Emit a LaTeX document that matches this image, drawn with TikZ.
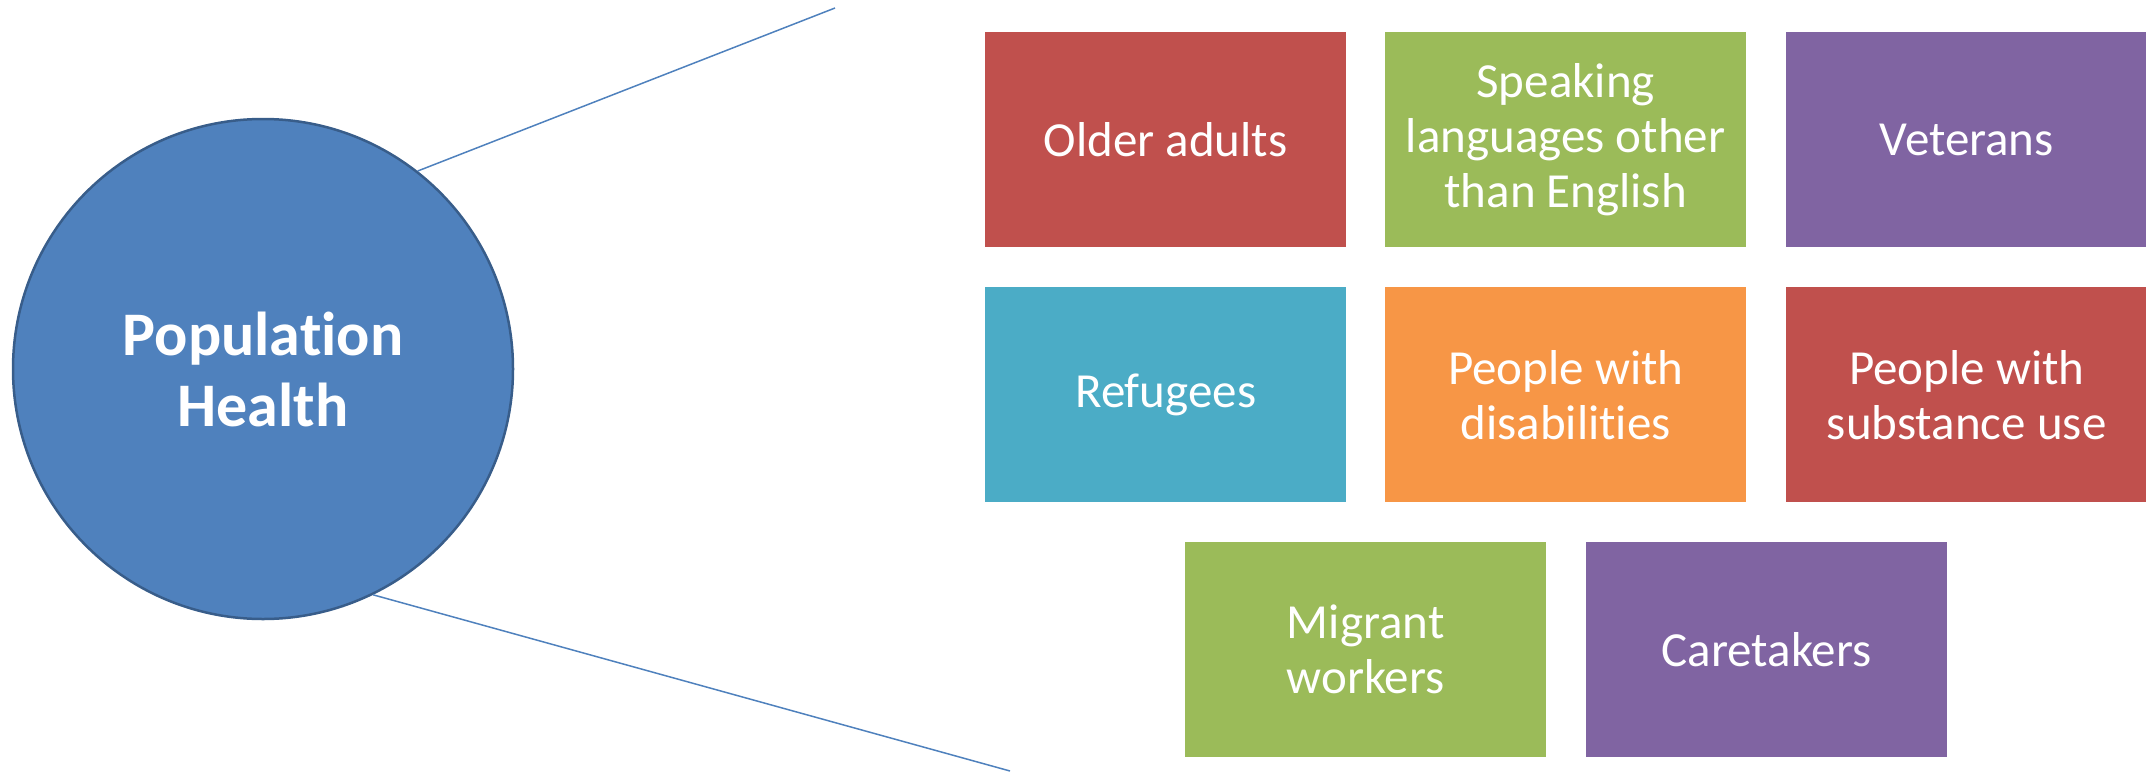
\documentclass[tikz,border=0pt]{standalone}
\usepackage{fontspec}
\setmainfont{Carlito}[Ligatures={NoCommon}]
\definecolor{cred}{HTML}{C0504D}
\definecolor{cgreen}{HTML}{9BBB59}
\definecolor{cpurple}{HTML}{8064A2}
\definecolor{cteal}{HTML}{4BACC6}
\definecolor{corange}{HTML}{F79646}
\definecolor{cblue}{HTML}{4F81BD}
\definecolor{cblueline}{HTML}{385D8A}
\tikzset{
  tile/.style={rectangle, anchor=north west, minimum width=361pt, minimum height=215pt,
    inner sep=0pt, text=white, align=center, font=\fontsize{49}{55}\selectfont},
  conn/.style={draw=cblue, line width=1.5pt}
}
\begin{document}
\begin{tikzpicture}[x=1pt,y=-1pt]
\useasboundingbox (0,0) rectangle (2146,771);
\node[circle, minimum size=500pt, inner sep=0pt, fill=cblue, draw=cblueline, line width=2.5pt,
  text=white, align=center, font=\bfseries\fontsize{62}{71}\selectfont] (pc) at (263,369) {Population\\Health};
\coordinate (e1) at (835,8);
\coordinate (e2) at (1010,771);
\draw[conn] (pc.52.2) -- (e1);
\draw[conn] (pc.-64.1) -- (e2);
\node[tile, fill=cred] (b1) at (985,32) {Older adults};
\node[tile, fill=cgreen] (b2) at (1385,32) {Speaking\\languages other\\than English};
\node[tile, fill=cpurple] (b3) at (1786,32) {Veterans};
\node[tile, fill=cteal] (b4) at (985,287) {Refugees};
\node[tile, fill=corange] (b5) at (1385,287) {People with\\disabilities};
\node[tile, fill=cred] (b6) at (1786,287) {People with\\substance use};
\node[tile, fill=cgreen] (b7) at (1185,542) {Migrant\\workers};
\node[tile, fill=cpurple] (b8) at (1586,542) {Caretakers};
\end{tikzpicture}
\end{document}
